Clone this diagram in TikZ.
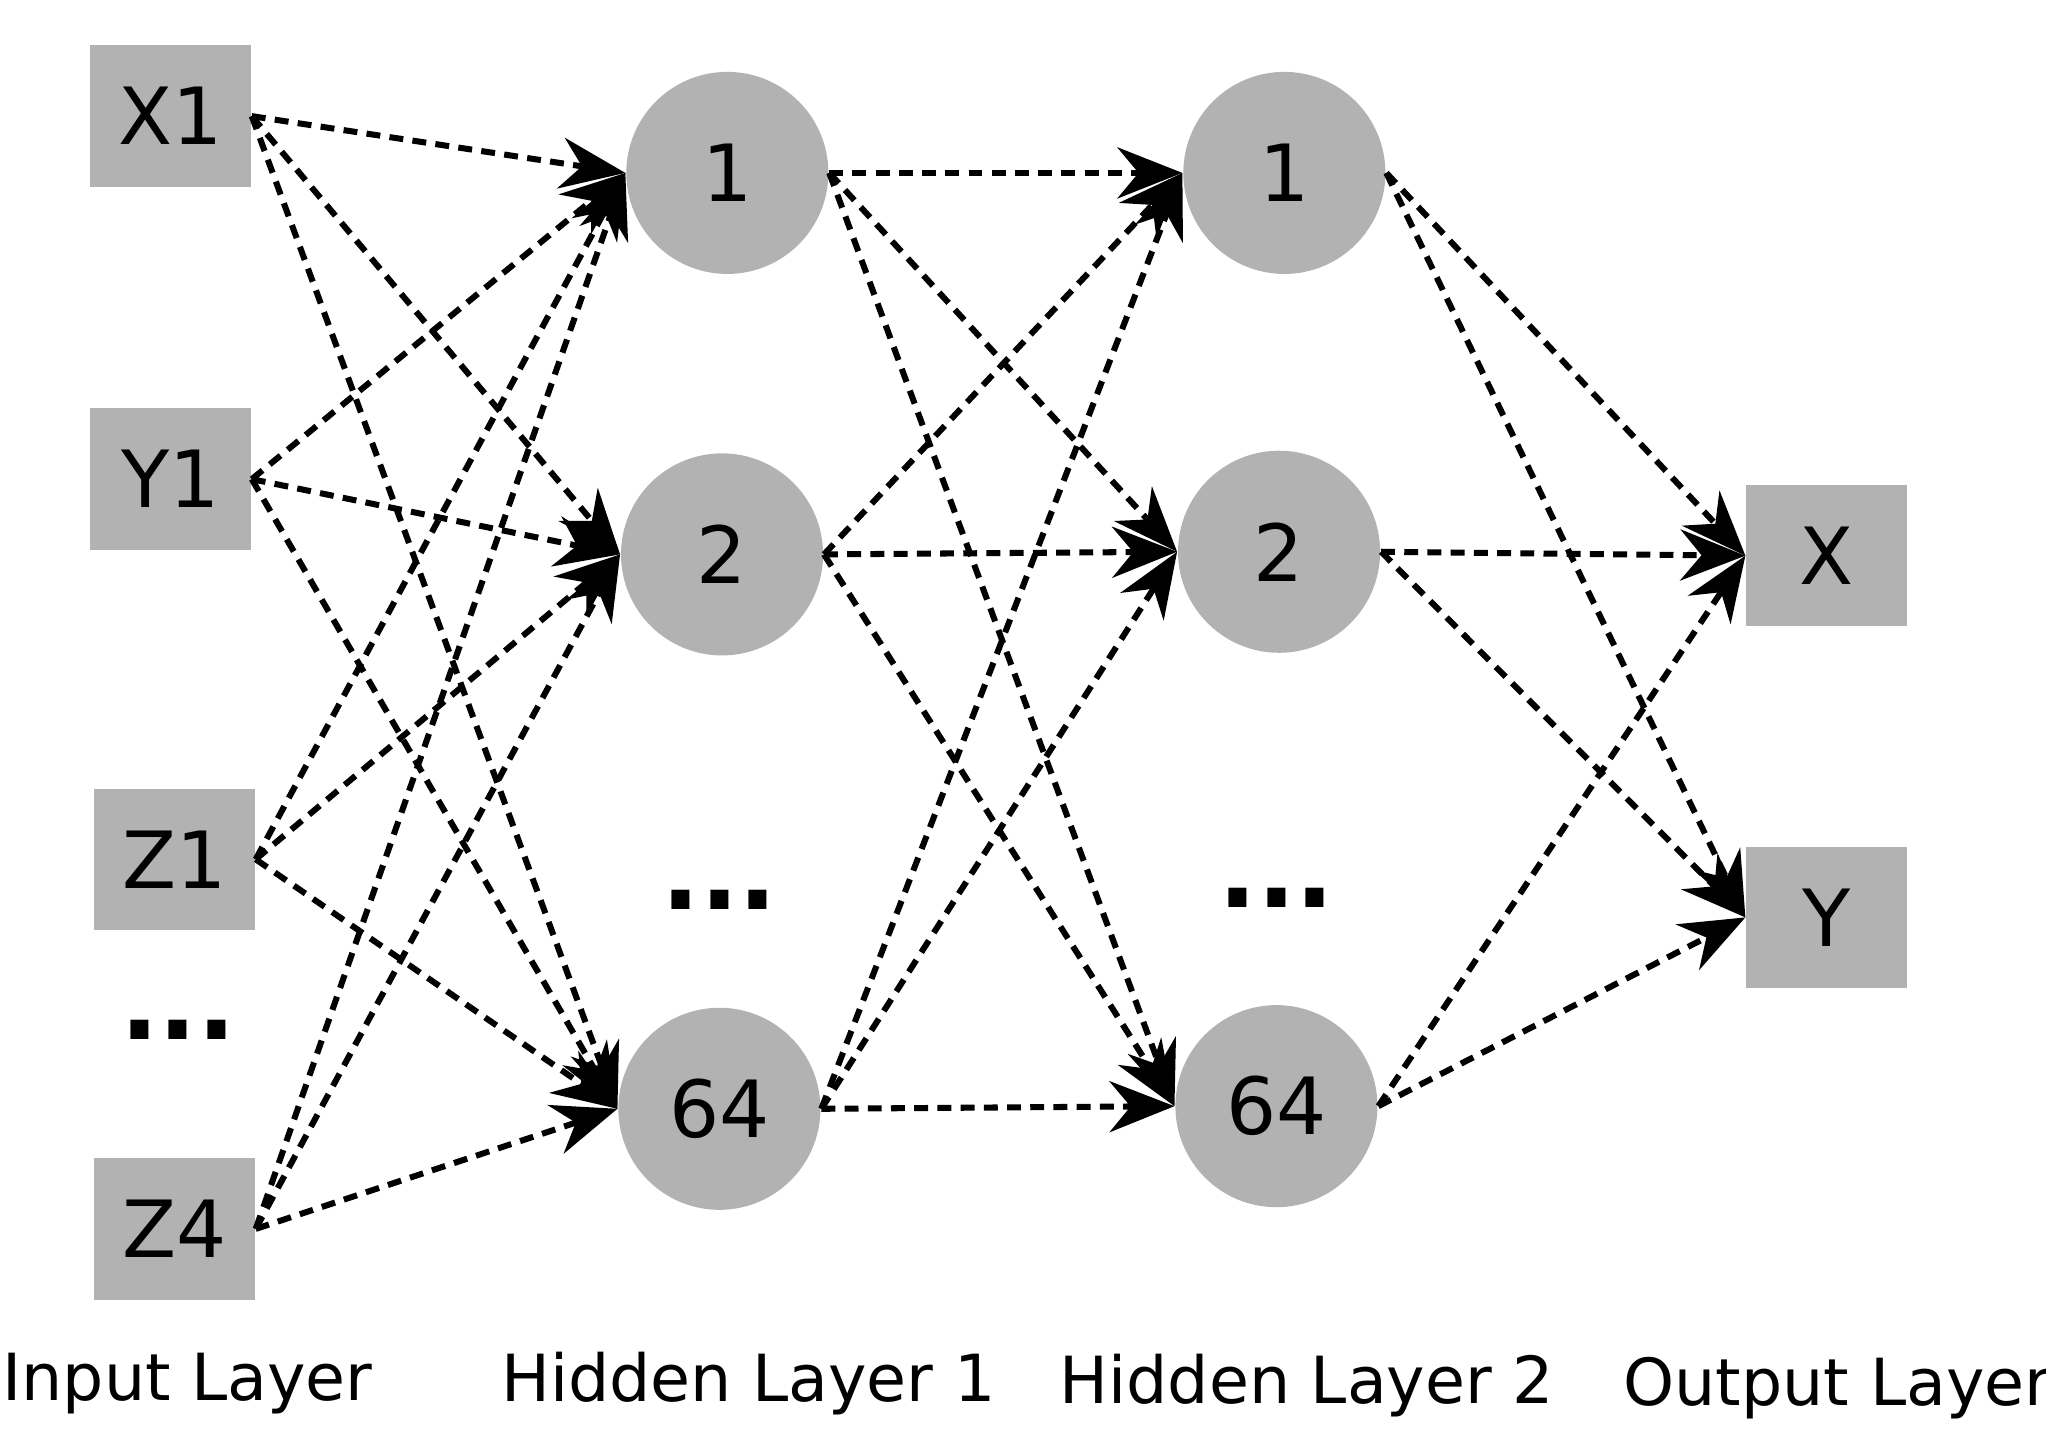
\documentclass[tikz,border=0pt]{standalone}
\usepackage{fontspec}
\setmainfont{DejaVu Sans}
\usetikzlibrary{arrows.meta}

\begin{document}
\begin{tikzpicture}[x=0.01cm,y=-0.01cm,
  unit/.style={draw=none,fill=black!30,minimum width=1.22cm,minimum height=1.07cm,font=\fontsize{17}{20}\selectfont},
  neuron/.style={circle,fill=black!30,minimum size=1.53cm,font=\fontsize{17}{20}\selectfont},
  conn/.style={densely dashed,line width=1.3pt,-{Stealth[length=14pt,width=11pt]}},
  lab/.style={font=\fontsize{14}{17}\selectfont},
  dots/.style={font=\fontsize{22}{22}\selectfont\bfseries}]
\useasboundingbox (0,0) rectangle (1550,1085);
% input layer
\node[unit] (x1) at (129,88)  {X1};
\node[unit] (y1) at (129,363) {Y1};
\node[unit] (z1) at (132,651) {Z1};
\node[unit] (z4) at (132,931) {Z4};
\node[dots] (din) at (135,780) {...};
% hidden layers
\node[neuron] (a1) at (551,131) {1};
\node[neuron] (a2) at (547,420) {2};
\node[neuron] (a64) at (545,840) {64};
\node[dots] (da) at (545,682) {...};
\node[neuron] (b1) at (973,131) {1};
\node[neuron] (b2) at (969,418) {2};
\node[neuron] (b64) at (967,838) {64};
\node[dots] (db) at (967,680) {...};
% output layer
\node[unit] (ox) at (1384,421) {X};
\node[unit] (oy) at (1384,695) {Y};
% labels
\node[lab] (l1) at (142,1048) {Input Layer};
\node[lab] (l2) at (567,1048) {Hidden Layer 1};
\node[lab] (l3) at (990,1050) {Hidden Layer 2};
\node[lab] (l4) at (1392,1052) {Output Layer};
% connections
\foreach \s in {x1,y1,z1,z4}
  \foreach \t in {a1,a2,a64}
    \draw[conn] (\s.east) -- (\t.west);
\foreach \s in {a1,a2,a64}
  \foreach \t in {b1,b2,b64}
    \draw[conn] (\s.east) -- (\t.west);
\foreach \s in {b1,b2,b64}
  \foreach \t in {ox,oy}
    \draw[conn] (\s.east) -- (\t.west);
\end{tikzpicture}
\end{document}
